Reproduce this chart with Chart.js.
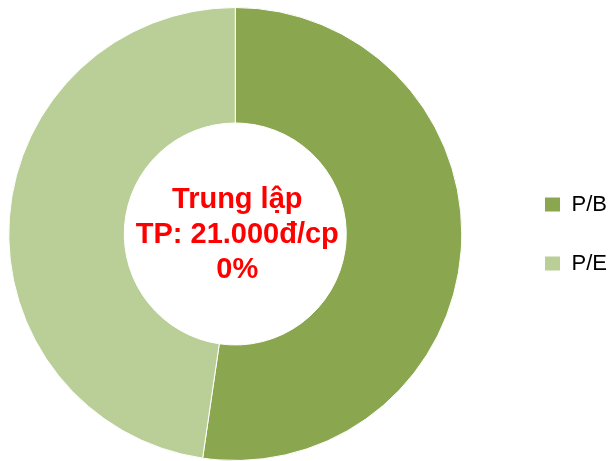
<!DOCTYPE html>
<html>
<head>
<meta charset="utf-8">
<script src="https://cdn.jsdelivr.net/npm/chart.js@4"></script>
<style>
  body { margin: 0; background: #fff; overflow: hidden; }
  #wrap { width: 612px; height: 461px; overflow: hidden; }
  /* 画布左移，让圆环贴近左边 */
  #myChart { margin-left: -37px; display: block; }
</style>
</head>
<body>
<div id="wrap"><canvas id="myChart" width="654" height="461"></canvas></div>
<script>
// 估值方法占比
var labels = ['P/B', 'P/E'];
var values = [52.3, 47.7];
var colors = ['#8AA64F', '#BACF97'];
// 中间的推荐文字
var centerLines = ['Trung lập', 'TP: 21.000đ/cp', '0%'];

// 在圆环中间写字
var centerText = {
  id: 'centerText',
  afterDraw: function (chart) {
    var arc = chart.getDatasetMeta(0).data[0];
    var cx = arc.x, cy = arc.y;
    var ctx = chart.ctx;
    ctx.save();
    ctx.font = 'bold 29px "Liberation Sans", Arial, sans-serif';
    ctx.fillStyle = '#FF0000';
    ctx.textAlign = 'center';
    ctx.textBaseline = 'alphabetic';
    for (var i = 0; i < centerLines.length; i++) {
      ctx.fillText(centerLines[i], cx + 2, cy + 9 + (i - 1) * 35);
    }
    ctx.restore();
  }
};

var ctx = document.getElementById('myChart');
var myChart = new Chart(ctx, {
  type: 'doughnut',
  data: {
    labels: labels,
    datasets: [{
      data: values,
      backgroundColor: colors,
      borderColor: '#ffffff',
      borderWidth: 1
    }]
  },
  options: {
    responsive: false,
    animation: false,
    cutout: '49%',
    layout: {
      padding: { left: 0, right: 0, top: 7, bottom: 0 }
    },
    plugins: {
      tooltip: { enabled: false },
      legend: {
        position: 'right',
        labels: {
          color: '#000000',
          font: { size: 22, family: '"Liberation Sans", Arial, sans-serif' },
          boxWidth: 16,
          boxHeight: 15,
          padding: 37
        }
      }
    }
  },
  plugins: [centerText]
});
</script>
</body>
</html>
